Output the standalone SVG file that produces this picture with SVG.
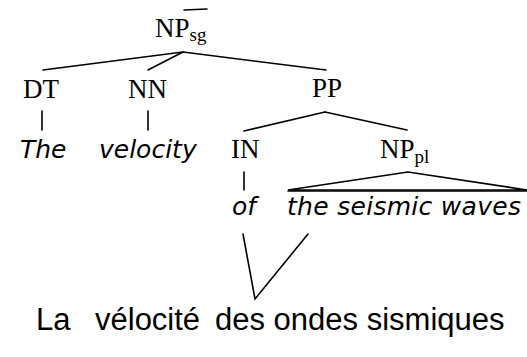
<svg xmlns="http://www.w3.org/2000/svg" width="527" height="357" viewBox="0 0 527 357">
<style>
.cat{font-family:"Liberation Serif","Times New Roman",serif;font-size:27px;fill:#000}
.sub{font-size:19px}
.word{font-family:"DejaVu Sans",sans-serif;font-style:italic;font-size:25px;fill:#000}
.fr{font-family:"Liberation Sans",Arial,sans-serif;font-size:31px;fill:#000}
.ln{stroke:#000;stroke-width:1.6;fill:none;stroke-linecap:round}
</style>
<rect width="527" height="357" fill="#fff"/>
<g id="connectors">
<line class="ln" x1="184" y1="10" x2="207" y2="9"/>
<line class="ln" x1="183" y1="52" x2="43" y2="70"/>
<line class="ln" x1="183" y1="52" x2="148" y2="70"/>
<line class="ln" x1="183" y1="52" x2="326" y2="70"/>
<line class="ln" x1="42" y1="111" x2="42" y2="130"/>
<line class="ln" x1="148" y1="111" x2="148" y2="130"/>
<line class="ln" x1="325" y1="112" x2="244" y2="131"/>
<line class="ln" x1="325" y1="112" x2="407" y2="130"/>
<line class="ln" x1="244" y1="172" x2="244" y2="190"/>
<polygon class="ln" points="408,172 288,190 527,190"/>
<line class="ln" x1="288" y1="191" x2="527" y2="191"/>
<polyline class="ln" points="243,234 255,299 308,234"/>
</g>
<g id="NPsg"><text class="cat" x="155" y="37">NP<tspan class="sub" dy="4">sg</tspan></text></g>
<g id="DT"><text class="cat" x="23" y="98">DT</text></g>
<g id="NN"><text class="cat" x="128" y="98">NN</text></g>
<g id="PP"><text class="cat" x="312" y="97">PP</text></g>
<g id="IN"><text class="cat" x="231" y="158">IN</text></g>
<g id="NPpl"><text class="cat" x="380" y="158">NP<tspan class="sub" dy="5">pl</tspan></text></g>
<g id="w-the"><text class="word" x="20" y="158">The</text></g>
<g id="w-velocity"><text class="word" x="99" y="158">velocity</text></g>
<g id="w-of"><text class="word" x="232" y="215">of</text></g>
<g id="w-waves"><text class="word" x="287" y="215" textLength="234">the seismic waves</text></g>
<g id="french"><text class="fr" y="330"><tspan x="36">La</tspan><tspan x="95">vélocité</tspan><tspan x="215">des ondes sismiques</tspan></text></g>
</svg>
